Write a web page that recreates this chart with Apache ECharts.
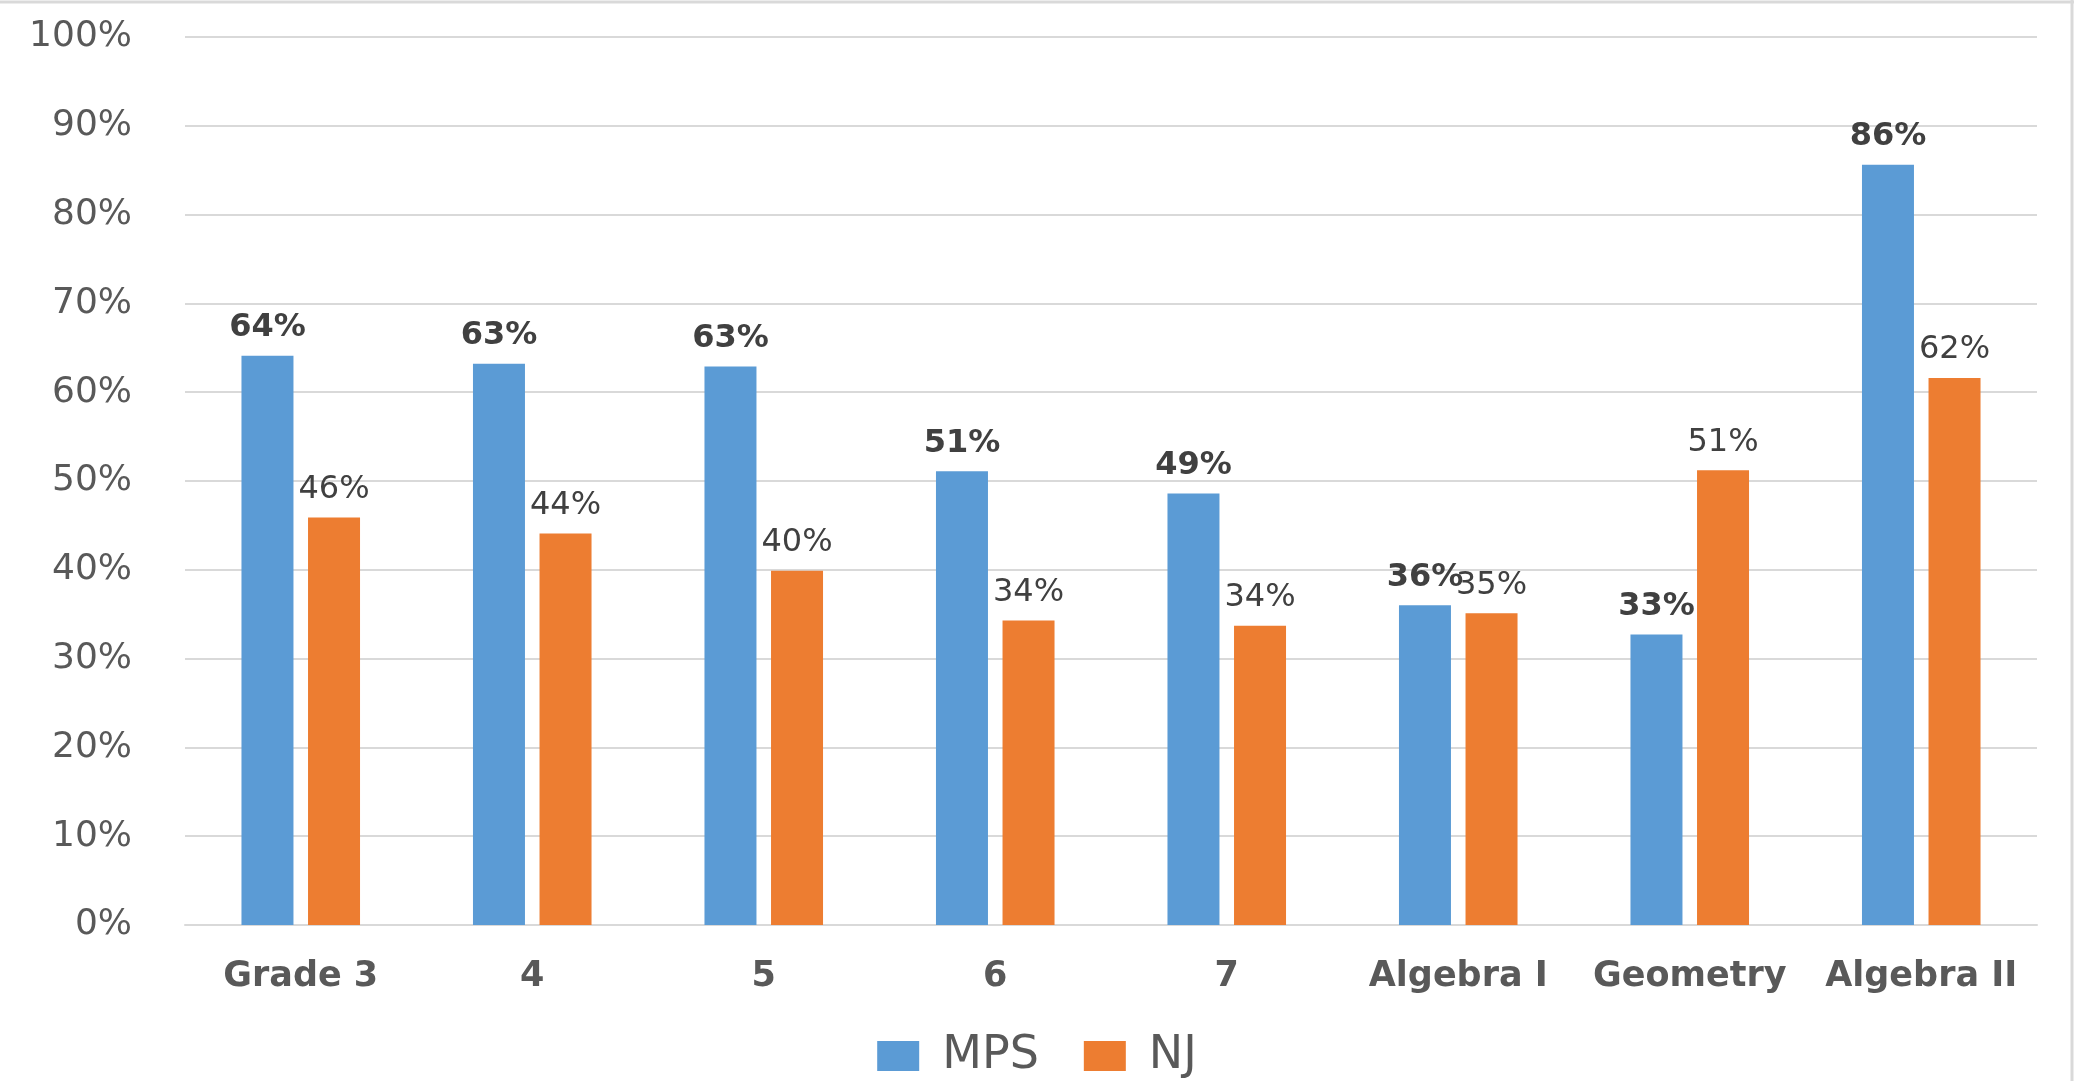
<!DOCTYPE html>
<html>
<head>
<meta charset="utf-8">
<script src="https://cdn.jsdelivr.net/npm/echarts@6/dist/echarts.min.js"></script>
<style>html,body{margin:0;padding:0;background:#fff;}#c{width:2074px;height:1081px;}</style>
</head>
<body>
<div id="c"></div>
<script>
const categories = ['Grade 3', '4', '5', '6', '7', 'Algebra I', 'Geometry', 'Algebra II'];
const mpsValues = [0.641, 0.632, 0.629, 0.511, 0.486, 0.360, 0.327, 0.856];
const njValues  = [0.459, 0.441, 0.399, 0.343, 0.337, 0.351, 0.512, 0.616];
const seriesNames = ['MPS', 'NJ'];
const yTicks = { min: 0, max: 1, interval: 0.1 };

const pct = v => Math.round(v * 100) + '%';
const chart = echarts.init(document.getElementById('c'));
chart.setOption({
  animation: false,
  backgroundColor: '#ffffff',
  grid: { left: 185, right: 37, top: 37, bottom: 156 },
  legend: {
    data: seriesNames,
    bottom: -3,
    left: 'center',
    icon: 'rect',
    itemWidth: 42,
    itemHeight: 30,
    itemGap: 45,
    textStyle: { fontFamily: 'DejaVu Sans', fontSize: 46, color: '#595959', padding: [0, 0, 0, 18] }
  },
  xAxis: {
    type: 'category',
    data: categories,
    axisLine: { show: true, lineStyle: { color: '#d9d9d9', width: 2 } },
    axisTick: { show: false },
    axisLabel: { interval: 0, margin: 34, fontFamily: 'DejaVu Sans', fontWeight: 'bold', fontSize: 35, color: '#595959' }
  },
  yAxis: {
    type: 'value',
    min: yTicks.min, max: yTicks.max, interval: yTicks.interval,
    axisLine: { show: false },
    axisTick: { show: false },
    splitLine: { lineStyle: { color: '#d9d9d9', width: 2 } },
    axisLabel: { margin: 53, fontFamily: 'DejaVu Sans', fontSize: 36, color: '#595959', formatter: v => Math.round(v * 100) + '%' }
  },
  series: [
    {
      name: seriesNames[0], type: 'bar', data: mpsValues, barWidth: 52, barGap: '28%',
      itemStyle: { color: '#5b9bd5' },
      label: { show: true, position: 'top', distance: 12, formatter: p => pct(p.value), fontFamily: 'DejaVu Sans', fontWeight: 'bold', fontSize: 32, color: '#404040' }
    },
    {
      name: seriesNames[1], type: 'bar', data: njValues, barWidth: 52, barGap: '28%',
      itemStyle: { color: '#ed7d31' },
      label: { show: true, position: 'top', distance: 12, formatter: p => pct(p.value), fontFamily: 'DejaVu Sans', fontSize: 32, color: '#404040' }
    }
  ],
  graphic: [
    { type: 'line', shape: { x1: 0, y1: 2, x2: 2074, y2: 2 }, style: { stroke: '#d9d9d9', lineWidth: 3 } },
    { type: 'line', shape: { x1: 2072, y1: 0, x2: 2072, y2: 1081 }, style: { stroke: '#d9d9d9', lineWidth: 3 } }
  ]
});
</script>
</body>
</html>
